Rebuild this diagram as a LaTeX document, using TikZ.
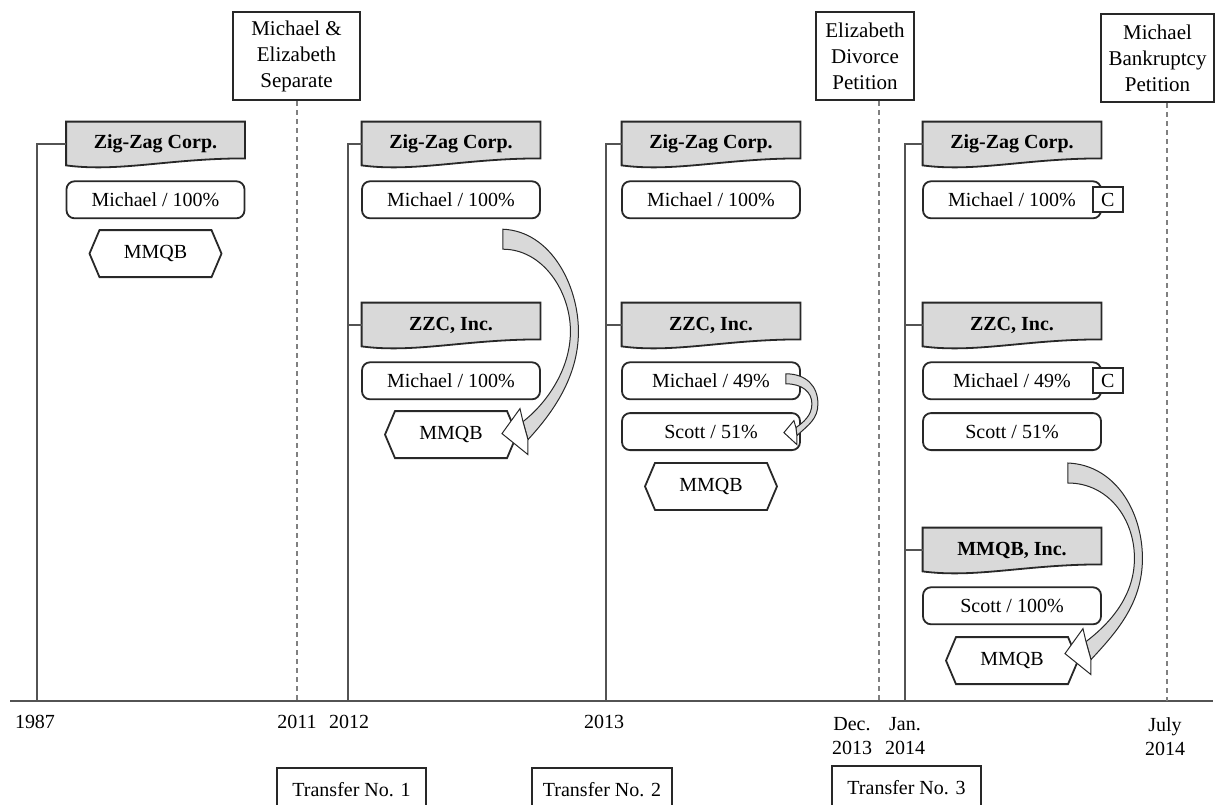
\documentclass[tikz,border=0pt]{standalone}
\usepackage{fontspec}
\setmainfont{Liberation Serif}
\usetikzlibrary{positioning,calc,shapes.symbols,backgrounds}

\definecolor{boxgray}{RGB}{217,217,217}
\definecolor{ink}{RGB}{40,40,40}

\tikzset{
  corpbox/.style={minimum width=89pt, minimum height=22pt, inner sep=0pt, font=\bfseries},
  ownbox/.style={draw=ink, line width=0.9pt, rounded corners=4pt, minimum width=89pt, minimum height=18.5pt, inner sep=0pt},
  mmqbbox/.style={draw=ink, line width=0.9pt, signal, signal to=west and east, signal pointer angle=134, minimum width=66pt, minimum height=23.5pt, inner sep=0pt},
  eventbox/.style={draw=ink, line width=1pt, align=center, inner sep=0pt, minimum height=44pt, font=\fontsize{10.5}{13}\selectfont},
  transferbox/.style={draw=ink, line width=0.9pt, minimum width=74.5pt, minimum height=22pt, inner sep=0pt},
  yearlbl/.style={anchor=north, align=center, inner sep=0pt, font=\fontsize{10}{12}\selectfont},
  cbox/.style={draw=ink, fill=white, line width=0.9pt, minimum width=15pt, minimum height=12.5pt, inner sep=0pt},
  tline/.style={draw=ink!80, line width=0.6pt},
  sepline/.style={draw=gray, line width=0.6pt, dash pattern=on 2.5pt off 2pt},
  bandfill/.style={fill=boxgray, draw=ink, line width=0.5pt},
  headfill/.style={fill=white, draw=ink, line width=0.5pt}
}

% document shape under the company names
\newcommand{\corpoutline}[1]{%
  \filldraw[fill=boxgray, draw=ink, line width=0.9pt] (#1.north west) -- (#1.north east) -- ($(#1.south east)+(0,-8)$)
    .. controls ($(#1.south)+(14,-8)$) and ($(#1.south)+(-36,6)$) .. ($(#1.south west)+(0,-1)$) -- cycle;}

% wide bent arrow, tail #1, tip #2
\newcommand{\bigturn}[2]{%
  \filldraw[bandfill] (#1) .. controls ($(#1)+(48,2)$) and ($(#1)!0.5!(#2)+(76,-46)$) .. ($(#1)!0.5!(#2)+(76,0)$)
    .. controls ($(#1)!0.5!(#2)+(76,46)$) and ($(#2)+(50,-20)$) .. ($(#2)+(26,6)$)
    -- ($(#2)+(21,-12)$)
    .. controls ($(#2)+(42,-28)$) and ($(#1)!0.5!(#2)+(68,40)$) .. ($(#1)!0.5!(#2)+(68,0)$)
    .. controls ($(#1)!0.5!(#2)+(68,-40)$) and ($(#1)+(40,20)$) .. ($(#1)+(0,20)$) -- cycle;
  \filldraw[headfill] (#2) -- ($(#2)+(18,-25)$) -- ($(#2)+(21,-12)$) -- ($(#2)+(26,6)$) -- ($(#2)+(26,21)$) -- cycle;}

\begin{document}
\begin{tikzpicture}[x=0.5pt, y=-0.5pt]
  \useasboundingbox (0,0) rectangle (1215,804);

  % time axis
  \coordinate (axl) at (10,701);
  \coordinate (axr) at (1213,701);
  \coordinate (t87) at (37,701);
  \coordinate (t11) at (297,701);
  \coordinate (t12) at (348,701);
  \coordinate (t13) at (606,701);
  \coordinate (td13) at (879,701);
  \coordinate (tj14) at (905,701);
  \coordinate (tjul) at (1167,701);
  \draw[ink!80, line width=1pt] (axl) -- (axr);

  % events
  \node[eventbox, minimum width=63.5pt] (sep) at (296.5,56) {Michael \&\\Elizabeth\\Separate};
  \node[eventbox, minimum width=49pt] (div) at (865,56) {Elizabeth\\Divorce\\Petition};
  \node[eventbox, minimum width=56.5pt] (bkr) at (1157.5,58) {Michael\\Bankruptcy\\Petition};

  % 1987
  \node[corpbox] (zz1) at (155.5,144) {Zig-Zag Corp.};
  \node[ownbox, below=7pt of zz1] (m1) {Michael / 100\%};
  \node[mmqbbox, below=5pt of m1] (h1) {MMQB};

  % 2012
  \node[corpbox] (zz2) at (451,144) {Zig-Zag Corp.};
  \node[ownbox, below=7pt of zz2] (m2a) {Michael / 100\%};
  \node[corpbox] (zzc2) at (451,325) {ZZC, Inc.};
  \node[ownbox, below=7pt of zzc2] (m2b) {Michael / 100\%};
  \node[mmqbbox, below=5pt of m2b] (h2) {MMQB};

  % 2013
  \node[corpbox] (zz3) at (711,144) {Zig-Zag Corp.};
  \node[ownbox, below=7pt of zz3] (m3a) {Michael / 100\%};
  \node[corpbox] (zzc3) at (711,325) {ZZC, Inc.};
  \node[ownbox, below=7pt of zzc3] (m3b) {Michael / 49\%};
  \node[ownbox, below=6pt of m3b] (s3) {Scott / 51\%};
  \node[mmqbbox, below=5.5pt of s3] (h3) {MMQB};

  % 2014
  \node[corpbox] (zz4) at (1012,144) {Zig-Zag Corp.};
  \node[ownbox, below=7pt of zz4] (m4a) {Michael / 100\%};
  \node[cbox, right=-5pt of m4a] (c4a) {C};
  \node[corpbox] (zzc4) at (1012,325) {ZZC, Inc.};
  \node[ownbox, below=7pt of zzc4] (m4b) {Michael / 49\%};
  \node[cbox, right=-5pt of m4b] (c4b) {C};
  \node[ownbox, below=6pt of m4b] (s4) {Scott / 51\%};
  \node[corpbox] (mi4) at (1012,550) {MMQB, Inc.};
  \node[ownbox, below=7pt of mi4] (s4b) {Scott / 100\%};
  \node[mmqbbox, below=5.5pt of s4b] (h4) {MMQB};

  \begin{pgfonlayer}{background}
    \foreach \n in {zz1,zz2,zzc2,zz3,zzc3,zz4,zzc4,mi4}
      \corpoutline{\n};
  \end{pgfonlayer}

  % time lines
  \draw[tline] (t87) -- (t87 |- zz1.west) -- (zz1.west);
  \draw[tline] (t12) -- (t12 |- zz2.west) -- (zz2.west);
  \draw[tline] (t12 |- zzc2.west) -- (zzc2.west);
  \draw[tline] (t13) -- (t13 |- zz3.west) -- (zz3.west);
  \draw[tline] (t13 |- zzc3.west) -- (zzc3.west);
  \draw[tline] (tj14) -- (tj14 |- zz4.west) -- (zz4.west);
  \draw[tline] (tj14 |- zzc4.west) -- (zzc4.west);
  \draw[tline] (tj14 |- mi4.west) -- (mi4.west);
  \draw[sepline] (t11 |- sep.south) -- (t11);
  \draw[sepline] (td13 |- div.south) -- (td13);
  \draw[sepline] (tjul |- bkr.south) -- (tjul);

  % transfers
  \coordinate (a2s) at ($(m2a.south east)+(-38,10)$);
  \coordinate (a2e) at ($(h2.east)+(-16,-1)$);
  \bigturn{a2s}{a2e}
  \coordinate (a4s) at ($(s4.south east)+(-34,12)$);
  \coordinate (a4e) at ($(h4.east)+(-14,-7)$);
  \bigturn{a4s}{a4e}
  \coordinate (a3s) at ($(m3b.east)+(-15,-7)$);
  \coordinate (a3e) at ($(s3.east)+(-17,1)$);
  \filldraw[bandfill] (a3s) .. controls ($(a3s)+(20,0)$) and ($(a3s)+(32,12)$) .. ($(a3s)+(32,30)$)
    .. controls ($(a3s)+(32,45)$) and ($(a3e)+(25,-8)$) .. ($(a3e)+(13,3)$)
    -- ($(a3e)+(12,-5)$)
    .. controls ($(a3e)+(19,-10)$) and ($(a3s)+(26,42)$) .. ($(a3s)+(26,30)$)
    .. controls ($(a3s)+(26,18)$) and ($(a3s)+(16,10)$) .. ($(a3s)+(0,10)$) -- cycle;
  \filldraw[headfill] (a3e) -- ($(a3e)+(10,-12)$) -- ($(a3e)+(12,-5)$) -- ($(a3e)+(13,3)$) -- ($(a3e)+(13,12)$) -- cycle;

  % dates
  \node[yearlbl] (y87) at (35,715) {1987};
  \node[yearlbl] (y11) at (297,715) {2011};
  \node[yearlbl] (y12) at (349,715) {2012};
  \node[yearlbl] (y13) at (604,715) {2013};
  \node[yearlbl] (yd13) at (852,717) {Dec.\\2013};
  \node[yearlbl] (yj14) at (905,717) {Jan.\\2014};
  \node[yearlbl] (yjul) at (1165,717) {July\\2014};

  \node[transferbox] (tr1) at (351.5,790) {Transfer No. 1};
  \node[transferbox, minimum width=70pt] (tr2) at (602,790) {Transfer No. 2};
  \node[transferbox] (tr3) at (906.5,788) {Transfer No. 3};
\end{tikzpicture}
\end{document}
